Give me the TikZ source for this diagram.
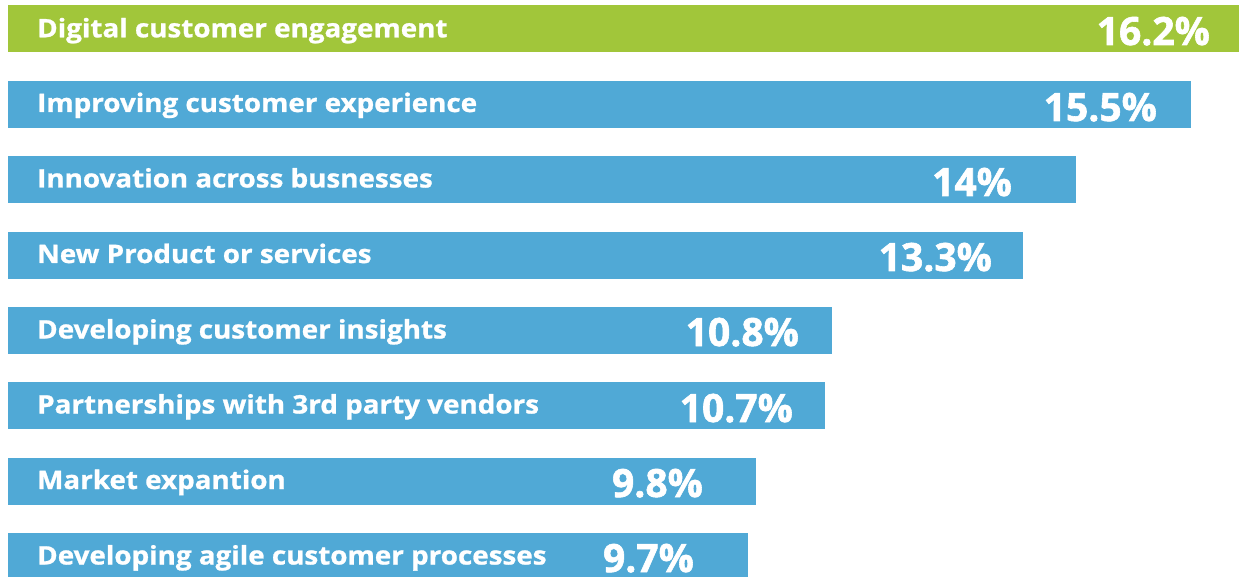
\documentclass[tikz,border=0pt]{standalone}
\usepackage{fontspec}
\setmainfont{Open Sans}[BoldFont={Open Sans Bold}]
\newfontfamily\lblfont{Open Sans Bold}[FakeStretch=1.09,FakeBold=1]
\newfontfamily\pctfont{Open Sans Bold}[FakeBold=1.5]
\definecolor{bargreen}{RGB}{161,198,58}
\definecolor{barblue}{RGB}{80,169,214}
\tikzset{
  bar/.style={inner sep=0pt, outer sep=0pt, minimum height=47pt, anchor=north west},
  lbl/.style={inner sep=0pt, anchor=base west, text=white, font=\lblfont\fontsize{25.5}{28}\selectfont},
  pct/.style={inner sep=0pt, anchor=base east, text=white, font=\pctfont\fontsize{39}{44}\selectfont},
}
\begin{document}
\begin{tikzpicture}[x=1pt,y=-1pt]
\useasboundingbox (0,0) rectangle (1239,577);
\node[bar, fill=bargreen, minimum width=1231pt] (b1) at (8,5) {};
\node[bar, fill=barblue, minimum width=1183pt] (b2) at (8,81) {};
\node[bar, fill=barblue, minimum width=1068pt] (b3) at (8,156) {};
\node[bar, fill=barblue, minimum width=1015pt] (b4) at (8,232) {};
\node[bar, fill=barblue, minimum width=824pt] (b5) at (8,307) {};
\node[bar, fill=barblue, minimum width=817pt] (b6) at (8,382) {};
\node[bar, fill=barblue, minimum width=748pt] (b7) at (8,458) {};
\node[bar, fill=barblue, minimum width=740pt] (b8) at (8,533) {};
\node[lbl] (l1) at (37,37.3) {Digital customer engagement};
\node[lbl] (l2) at (37,112) {Improving customer experience};
\node[lbl] (l3) at (37,187.5) {Innovation across busnesses};
\node[lbl] (l4) at (37,263) {New Product or services};
\node[lbl] (l5) at (37,338.5) {Developing customer insights};
\node[lbl] (l6) at (37,413.5) {Partnerships with 3rd party vendors};
\node[lbl] (l7) at (37,489) {Market expantion};
\node[lbl] (l8) at (37,564.5) {Developing agile customer processes};
\node[pct] (p1) at (1210,45) {16.2\%};
\node[pct] (p2) at (1157,121) {15.5\%};
\node[pct] (p3) at (1012,196) {14\%};
\node[pct] (p4) at (992,271) {13.3\%};
\node[pct] (p5) at (799,346) {10.8\%};
\node[pct] (p6) at (793,422) {10.7\%};
\node[pct] (p7) at (703,497) {9.8\%};
\node[pct] (p8) at (694,572) {9.7\%};
\end{tikzpicture}
\end{document}
